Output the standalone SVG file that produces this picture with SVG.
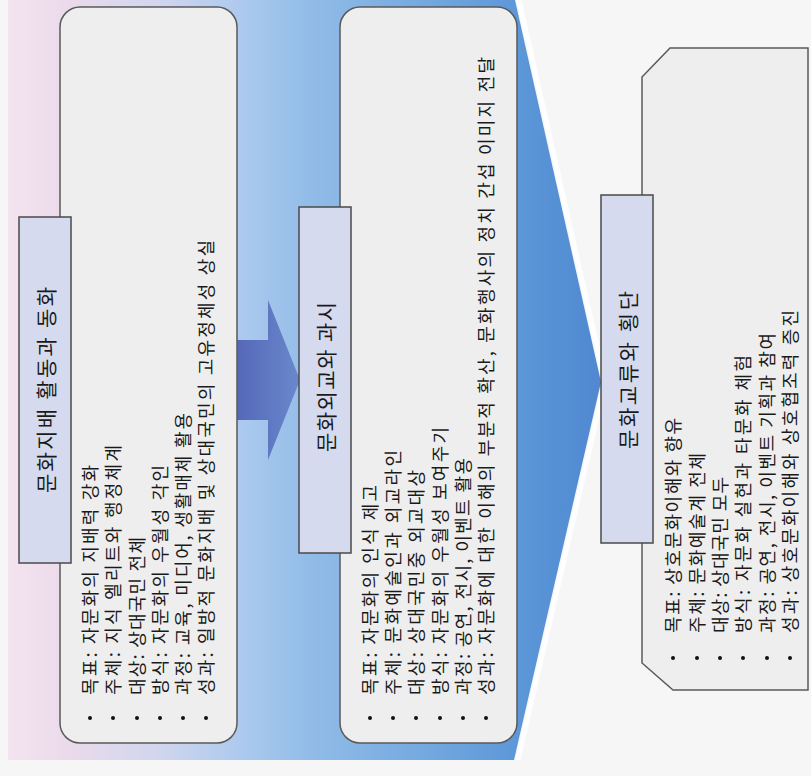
<svg xmlns="http://www.w3.org/2000/svg" width="811" height="776" viewBox="0 0 811 776">
<defs>
<linearGradient id="bg" x1="8" y1="0" x2="602" y2="0" gradientUnits="userSpaceOnUse">
<stop offset="0" stop-color="#f4e4f0"/>
<stop offset="0.1" stop-color="#ebdaeb"/>
<stop offset="0.25" stop-color="#d2d6ee"/>
<stop offset="0.4" stop-color="#abc9ee"/>
<stop offset="0.5" stop-color="#93bde8"/>
<stop offset="0.7" stop-color="#74a9e0"/>
<stop offset="0.86" stop-color="#5c97d8"/>
<stop offset="1" stop-color="#4f88d0"/>
</linearGradient>
<linearGradient id="arr" x1="237" y1="0" x2="300" y2="0" gradientUnits="userSpaceOnUse">
<stop offset="0" stop-color="#5568b8"/>
<stop offset="1" stop-color="#6a88cc"/>
</linearGradient>
<style>
.box{fill:#efeeef;stroke:#5a5a5a;stroke-width:1.5}
.title{fill:#d5daef;stroke:#4a4a4a;stroke-width:1.5}
.tt{font-family:"Noto Sans CJK KR","Noto Sans",sans-serif;font-size:21px;fill:#1a1a1a;dominant-baseline:central;text-anchor:middle}
.t{font-family:"Noto Sans CJK KR","Noto Sans",sans-serif;font-size:18px;fill:#1a1a1a;dominant-baseline:central}
.dot{fill:#111}
</style>
</defs>
<rect x="0" y="0" width="811" height="776" fill="#f6f6f6"/>
<polygon points="8,0 515,0 601,382 514,760 8,760" fill="url(#bg)"/>
<polyline points="519,0 605,382 518,760" fill="none" stroke="#ffffff" stroke-width="5" stroke-opacity="0.85"/>

<g id="connectors">
<polygon points="237,340 268,340 268,300 300,380 268,460 268,420 237,420" fill="url(#arr)"/>
</g>

<g id="node1">
<rect class="box" x="60" y="7" width="177" height="736" rx="20" ry="20"/>
<rect class="title" x="19" y="217" width="52" height="346"/>
<text class="tt" transform="translate(45,390) rotate(-90)" textLength="206" lengthAdjust="spacing">문화지배 활동과 동화</text>
<circle class="dot" cx="90" cy="718" r="2"/>
<circle class="dot" cx="113" cy="718" r="2"/>
<circle class="dot" cx="137" cy="718" r="2"/>
<circle class="dot" cx="160" cy="718" r="2"/>
<circle class="dot" cx="183" cy="718" r="2"/>
<circle class="dot" cx="206" cy="718" r="2"/>
<text class="t" transform="translate(89,695) rotate(-90)" textLength="230" lengthAdjust="spacing">목표: 자문화의 지배력 강화</text>
<text class="t" transform="translate(112,695) rotate(-90)" textLength="250" lengthAdjust="spacing">주체: 지식 엘리트와 행정체계</text>
<text class="t" transform="translate(136,695) rotate(-90)" textLength="158" lengthAdjust="spacing">대상: 상대국민 전체</text>
<text class="t" transform="translate(159,695) rotate(-90)" textLength="230" lengthAdjust="spacing">방식: 자문화의 우월성 각인</text>
<text class="t" transform="translate(182,695) rotate(-90)" textLength="282" lengthAdjust="spacing">과정: 교육, 미디어, 생활매체 활용</text>
<text class="t" transform="translate(205,695) rotate(-90)" textLength="455" lengthAdjust="spacing">성과: 일방적 문화지배 및 상대국민의 고유정체성 상실</text>
</g>

<g id="node2">
<rect class="box" x="340" y="7" width="177" height="736" rx="20" ry="20"/>
<rect class="title" x="299" y="207" width="52" height="346"/>
<text class="tt" transform="translate(325,377) rotate(-90)" textLength="150" lengthAdjust="spacing">문화외교와 과시</text>
<circle class="dot" cx="370" cy="718" r="2"/>
<circle class="dot" cx="393" cy="718" r="2"/>
<circle class="dot" cx="416" cy="718" r="2"/>
<circle class="dot" cx="440" cy="718" r="2"/>
<circle class="dot" cx="463" cy="718" r="2"/>
<circle class="dot" cx="486" cy="718" r="2"/>
<text class="t" transform="translate(369,695) rotate(-90)" textLength="210" lengthAdjust="spacing">목표: 자문화의 인식 제고</text>
<text class="t" transform="translate(392,695) rotate(-90)" textLength="245" lengthAdjust="spacing">주체: 문화예술인과 외교라인</text>
<text class="t" transform="translate(415,695) rotate(-90)" textLength="225" lengthAdjust="spacing">대상: 상대국민중 외교대상</text>
<text class="t" transform="translate(439,695) rotate(-90)" textLength="268" lengthAdjust="spacing">방식: 자문화의 우월성 보여주기</text>
<text class="t" transform="translate(462,695) rotate(-90)" textLength="237" lengthAdjust="spacing">과정: 공연, 전시, 이벤트 활용</text>
<text class="t" transform="translate(485,695) rotate(-90)" textLength="638" lengthAdjust="spacing">성과: 자문화에 대한 이해의 부분적 확산, 문화행사의 정치 간섭 이미지 전달</text>
</g>

<g id="node3">
<polygon class="box" points="670,48 808,48 808,690 673,690 642,663 642,77"/>
<rect class="title" x="601" y="195" width="52" height="348"/>
<text class="tt" transform="translate(627,370) rotate(-90)" textLength="158" lengthAdjust="spacing">문화교류와 횡단</text>
<circle class="dot" cx="673" cy="658" r="2"/>
<circle class="dot" cx="697" cy="658" r="2"/>
<circle class="dot" cx="720" cy="658" r="2"/>
<circle class="dot" cx="743" cy="658" r="2"/>
<circle class="dot" cx="767" cy="658" r="2"/>
<circle class="dot" cx="790" cy="658" r="2"/>
<text class="t" transform="translate(672,633) rotate(-90)" textLength="215" lengthAdjust="spacing">목표: 상호문화이해와 향유</text>
<text class="t" transform="translate(696,633) rotate(-90)" textLength="180" lengthAdjust="spacing">주체: 문화예술계 전체</text>
<text class="t" transform="translate(719,633) rotate(-90)" textLength="156" lengthAdjust="spacing">대상: 상대국민 모두</text>
<text class="t" transform="translate(742,633) rotate(-90)" textLength="278" lengthAdjust="spacing">방식: 자문화 실현과 타문화 체험</text>
<text class="t" transform="translate(766,633) rotate(-90)" textLength="300" lengthAdjust="spacing">과정: 공연, 전시, 이벤트 기획과 참여</text>
<text class="t" transform="translate(789,633) rotate(-90)" textLength="323" lengthAdjust="spacing">성과: 상호문화이해와 상호협조력 증진</text>
</g>
</svg>
